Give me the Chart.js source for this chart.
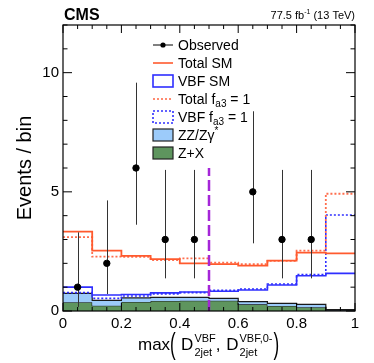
<!DOCTYPE html>
<html lang="en">
<head>
<meta charset="UTF-8">
<title>VBF-tagged 2jet discriminant</title>
<script src="https://cdn.jsdelivr.net/npm/chart.js@4.4.1/dist/chart.umd.min.js"></script>
<style>
    html, body { margin: 0; padding: 0; background: #fff; }
    #wrap { width: 374px; height: 363px; }
</style>
</head>
<body>
<div id="wrap"><canvas id="c" width="374" height="363"></canvas></div>
<script>
// bin edges of the histogram and the data points
var binEdges   = [0, 0.1, 0.2, 0.3, 0.4, 0.5, 0.6, 0.7, 0.8, 0.9, 1];
var binCenters = [0.05, 0.15, 0.25, 0.35, 0.45, 0.55, 0.65, 0.75, 0.85, 0.95];

// observed events (null = empty bin, not drawn) and their error bar ends
var observed = [1, 2, 6, 3, 3, null, 5, 3, 3, null];
var obsLow   = [0.17, 0.71, 3.62, 1.37, 1.37, null, 2.84, 1.37, 1.37, null];
var obsHigh  = [3.30, 4.64, 9.58, 5.92, 5.92, null, 8.38, 5.92, 5.92, null];

// expectations per bin
var totalSM  = [3.33, 2.53, 2.31, 2.18, 2.00, 1.97, 1.90, 2.11, 2.45, 2.42];
var totalFa3 = [3.10, 2.28, 2.27, 2.14, 2.21, 2.03, 1.97, 2.10, 2.53, 4.92];
var vbfSM    = [1.00, 0.67, 0.69, 0.76, 0.80, 0.83, 0.88, 1.09, 1.48, 1.58];
var vbfFa3   = [0.77, 0.53, 0.63, 0.72, 0.77, 0.87, 0.92, 1.13, 1.53, 4.03];
var zz       = [0.37, 0.23, 0.17, 0.15, 0.14, 0.10, 0.11, 0.11, 0.12, 0.03];
var zx       = [0.37, 0.22, 0.38, 0.42, 0.43, 0.43, 0.28, 0.21, 0.16, 0.03];

// vertical cut line
var cutX = 0.5;
var cutTop = 6;

var xTicks = [0, 0.2, 0.4, 0.6, 0.8, 1];
var xTickLabels = ['0', '0.2', '0.4', '0.6', '0.8', '1'];
var yTicks = [0, 5, 10];
var yTickLabels = ['0', '5', '10'];

var FONT = '"Liberation Sans", Arial, Helvetica, sans-serif';

// histogram -> step points (last value repeated at the right edge)
function steps(vals) {
    var pts = [];
    for (var i = 0; i < vals.length; i++) pts.push({x: binEdges[i], y: vals[i]});
    pts.push({x: binEdges[binEdges.length - 1], y: vals[vals.length - 1]});
    return pts;
}
var stackTop = zx.map(function (v, i) { return v + zz[i]; });

// chart.js 'before' = hold previous value up to the next point
function histo(label, vals, color, width, dash, order) {
    return {
        label: label, data: steps(vals), stepped: 'before',
        borderColor: color, borderWidth: width, borderDash: dash || [],
        pointRadius: 0, fill: false, order: order
    };
}

var datasets = [
    { label: 'Observed', type: 'scatter',
      data: binCenters.map(function (x, i) { return {x: x, y: observed[i]}; }),
      pointRadius: 3.2, pointBackgroundColor: '#000', pointBorderColor: '#000',
      showLine: false, order: 0 },
    { label: 'cut', data: [{x: cutX, y: 0}, {x: cutX, y: cutTop}],
      borderColor: '#a526d8', borderWidth: 2.5, borderDash: [11, 4],
      pointRadius: 0, fill: false, order: 1 },
    histo('Total SM', totalSM, '#ff5a2e', 1.8, null, 2),
    histo('Total fa3', totalFa3, '#ff6e4e', 1.8, [2, 2], 3),
    histo('VBF SM', vbfSM, '#2f2fff', 1.6, null, 4),
    histo('VBF fa3', vbfFa3, '#2f2fff', 1.6, [2, 2], 5),
    { label: 'ZZ', data: steps(stackTop), stepped: 'before',
      borderColor: '#1a1a1a', borderWidth: 1.2, backgroundColor: '#9ccbfa',
      pointRadius: 0, fill: 7, order: 6 },
    { label: 'Z+X', data: steps(zx), stepped: 'before',
      borderColor: '#1a1a1a', borderWidth: 1.2, backgroundColor: '#5e955e',
      pointRadius: 0, fill: 'origin', order: 7 }
];

function txt(ctx, s, x, y, size, opts) {
    opts = opts || {};
    ctx.font = (opts.bold ? 'bold ' : '') + size + 'px ' + FONT;
    ctx.textAlign = opts.align || 'left';
    ctx.textBaseline = 'alphabetic';
    ctx.fillStyle = '#000';
    ctx.fillText(s, x, y);
    return ctx.measureText(s).width;
}

var decor = {
    id: 'decor',
    beforeDatasetDraw: function (chart, args) {
        if (args.index !== 0) return;
        var ctx = chart.ctx, xs = chart.scales.x, ys = chart.scales.y;
        ctx.save();
        ctx.strokeStyle = '#333';
        ctx.lineWidth = 1;
        for (var i = 0; i < observed.length; i++) {
            if (observed[i] === null) continue;
            var px = Math.round(xs.getPixelForValue(binCenters[i])) + 0.5;
            ctx.beginPath();
            ctx.moveTo(px, ys.getPixelForValue(obsLow[i]));
            ctx.lineTo(px, ys.getPixelForValue(obsHigh[i]));
            ctx.stroke();
        }
        ctx.restore();
    },
    afterDraw: function (chart) {
        var ctx = chart.ctx, a = chart.chartArea, xs = chart.scales.x, ys = chart.scales.y;
        ctx.save();

        // frame
        ctx.strokeStyle = '#000';
        ctx.lineWidth = 1.2;
        ctx.strokeRect(a.left, a.top, a.right - a.left, a.bottom - a.top);

        // inward ticks
        ctx.lineWidth = 1;
        ctx.beginPath();
        for (var t = 0; t <= 20; t++) {
            var v = t * 0.05;
            var px = xs.getPixelForValue(v);
            var len = (t % 4 === 0) ? 8 : 4;
            ctx.moveTo(px, a.bottom); ctx.lineTo(px, a.bottom - len);
            ctx.moveTo(px, a.top); ctx.lineTo(px, a.top + len);
        }
        for (var k = 0; k <= 12; k++) {
            var py = ys.getPixelForValue(k);
            var l2 = (k % 5 === 0) ? 9 : 4.5;
            ctx.moveTo(a.left, py); ctx.lineTo(a.left + l2, py);
            ctx.moveTo(a.right, py); ctx.lineTo(a.right - l2, py);
        }
        ctx.stroke();

        // header
        txt(ctx, 'CMS', a.left + 1, 20, 16, {bold: true});
        ctx.font = '11px ' + FONT;
        var w1 = ctx.measureText(' (13 TeV)').width;
        ctx.font = '7px ' + FONT;
        var w2 = ctx.measureText('-1').width;
        ctx.font = '11px ' + FONT;
        var w3 = ctx.measureText('77.5 fb').width;
        var x0 = a.right - w1 - w2 - w3;
        txt(ctx, '77.5 fb', x0, 19, 11);
        txt(ctx, '-1', x0 + w3, 14, 7);
        txt(ctx, ' (13 TeV)', x0 + w3 + w2, 19, 11);

        // y title
        ctx.save();
        ctx.translate(31, (a.top + a.bottom) / 2);
        ctx.rotate(-Math.PI / 2);
        txt(ctx, 'Events / bin', 0, 0, 20, {align: 'center'});
        ctx.restore();

        // x title: max( D_2jet^VBF , D_2jet^VBF,0- )
        var bx = 138, by = 350;
        bx += txt(ctx, 'max', bx, by, 17);
        ctx.save();
        ctx.translate(bx, by + 4);
        ctx.scale(1, 1.75);
        txt(ctx, '(', 0, 0, 17);
        ctx.restore();
        bx += 11;
        bx += txt(ctx, 'D', bx, by, 17) + 1;
        var s1 = txt(ctx, 'VBF', bx, by - 8, 11);
        var s2 = txt(ctx, '2jet', bx, by + 6, 11);
        bx += Math.max(s1, s2);
        bx += txt(ctx, ', ', bx, by, 17) + 1;
        bx += txt(ctx, 'D', bx, by, 17) + 1;
        s1 = txt(ctx, 'VBF,0-', bx, by - 8, 11);
        s2 = txt(ctx, '2jet', bx, by + 6, 11);
        bx += Math.max(s1, s2) + 1;
        ctx.save();
        ctx.translate(bx, by + 4);
        ctx.scale(1, 1.75);
        txt(ctx, ')', 0, 0, 17);
        ctx.restore();

        // legend
        var lx = 153, tx = 178, rows = [45, 63, 81, 99, 117, 135, 153];
        ctx.lineWidth = 1;
        ctx.strokeStyle = '#000';
        ctx.beginPath(); ctx.moveTo(lx, rows[0]); ctx.lineTo(lx + 20, rows[0]); ctx.stroke();
        ctx.beginPath(); ctx.arc(lx + 10, rows[0], 2.6, 0, Math.PI * 2); ctx.fillStyle = '#000'; ctx.fill();
        txt(ctx, 'Observed', tx, rows[0] + 5, 14);

        ctx.strokeStyle = '#ff5a2e'; ctx.lineWidth = 1.6;
        ctx.beginPath(); ctx.moveTo(lx, rows[1]); ctx.lineTo(lx + 20, rows[1]); ctx.stroke();
        txt(ctx, 'Total SM', tx, rows[1] + 5, 14);

        ctx.strokeStyle = '#2f2fff'; ctx.lineWidth = 1.6;
        ctx.strokeRect(lx, rows[2] - 6, 20, 12);
        txt(ctx, 'VBF SM', tx, rows[2] + 5, 14);

        ctx.strokeStyle = '#ff6e4e'; ctx.setLineDash([2, 2]);
        ctx.beginPath(); ctx.moveTo(lx, rows[3]); ctx.lineTo(lx + 20, rows[3]); ctx.stroke();
        var w = txt(ctx, 'Total f', tx, rows[3] + 5, 14);
        var w4 = txt(ctx, 'a3', tx + w, rows[3] + 8, 10);
        txt(ctx, ' = 1', tx + w + w4, rows[3] + 5, 14);

        ctx.strokeStyle = '#2f2fff';
        ctx.strokeRect(lx, rows[4] - 6, 20, 12);
        ctx.setLineDash([]);
        w = txt(ctx, 'VBF f', tx, rows[4] + 5, 14);
        w4 = txt(ctx, 'a3', tx + w, rows[4] + 8, 10);
        txt(ctx, ' = 1', tx + w + w4, rows[4] + 5, 14);

        ctx.lineWidth = 1.2; ctx.strokeStyle = '#222';
        ctx.fillStyle = '#9ccbfa'; ctx.fillRect(lx, rows[5] - 6, 20, 12);
        ctx.strokeRect(lx, rows[5] - 6, 20, 12);
        w = txt(ctx, 'ZZ/Z\u03b3', tx, rows[5] + 5, 14);
        txt(ctx, '*', tx + w, rows[5] - 1, 10);

        ctx.fillStyle = '#5e955e'; ctx.fillRect(lx, rows[6] - 6, 20, 12);
        ctx.strokeRect(lx, rows[6] - 6, 20, 12);
        txt(ctx, 'Z+X', tx, rows[6] + 5, 14);

        ctx.restore();
    }
};

var ctx = document.getElementById('c').getContext('2d');
new Chart(ctx, {
    type: 'line',
    data: { datasets: datasets },
    options: {
        responsive: false,
        devicePixelRatio: 1,
        animation: false,
        layout: { padding: { left: 33, right: 19, top: 25, bottom: 22 } },
        plugins: { legend: { display: false }, tooltip: { enabled: false } },
        scales: {
            x: {
                type: 'linear', min: 0, max: 1,
                grid: { display: false, drawTicks: false },
                border: { display: false },
                afterBuildTicks: function (s) { s.ticks = xTicks.map(function (v) { return {value: v}; }); },
                afterFit: function (s) { s.height = 30; },
                ticks: {
                    color: '#000', padding: 4, maxRotation: 0,
                    font: { size: 15, family: FONT },
                    callback: function (v) { var i = xTicks.indexOf(v); return i >= 0 ? xTickLabels[i] : ''; }
                }
            },
            y: {
                type: 'linear', min: 0, max: 12,
                grid: { display: false, drawTicks: false },
                border: { display: false },
                afterBuildTicks: function (s) { s.ticks = yTicks.map(function (v) { return {value: v}; }); },
                afterFit: function (s) { s.width = 30; },
                ticks: {
                    color: '#000', padding: 4,
                    font: { size: 15, family: FONT },
                    callback: function (v) { var i = yTicks.indexOf(v); return i >= 0 ? yTickLabels[i] : ''; }
                }
            }
        }
    },
    plugins: [decor]
});
</script>
</body>
</html>
